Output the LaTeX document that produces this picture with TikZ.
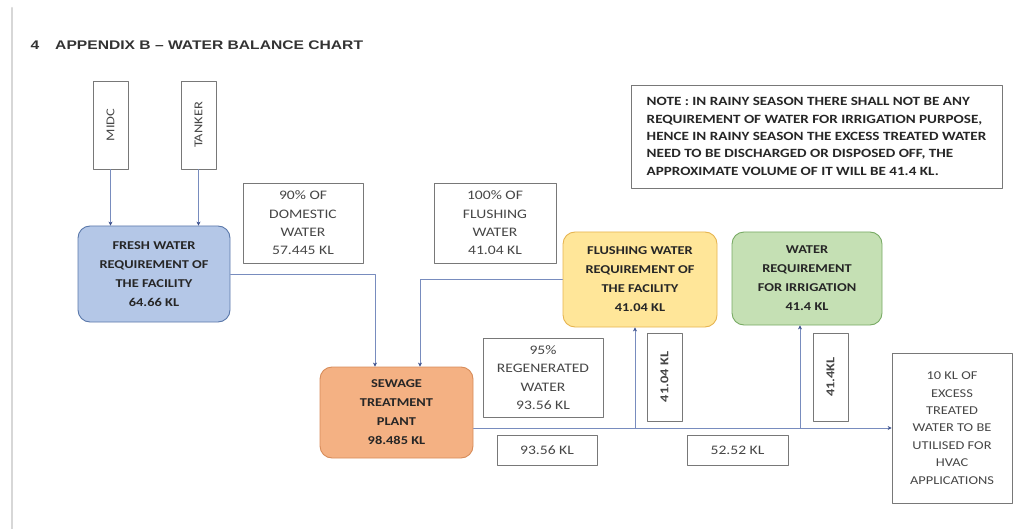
\documentclass[tikz,border=0pt]{standalone}
\usepackage{fontspec}
\setmainfont[FakeStretch=1.2]{Carlito}
\newfontfamily\titlefont[FakeStretch=1.25]{Liberation Sans}
\usetikzlibrary{arrows.meta}
\definecolor{rulegray}{RGB}{215,215,215}
\definecolor{boxgray}{RGB}{120,120,120}
\definecolor{txtgray}{RGB}{70,70,70}
\definecolor{flowblue}{RGB}{120,140,190}
\definecolor{headblue}{RGB}{60,80,140}
\definecolor{freshfill}{RGB}{180,199,231}
\definecolor{freshdraw}{RGB}{90,120,170}
\definecolor{stpfill}{RGB}{244,177,131}
\definecolor{stpdraw}{RGB}{215,140,90}
\definecolor{flushfill}{RGB}{255,230,153}
\definecolor{flushdraw}{RGB}{230,180,80}
\definecolor{irrfill}{RGB}{197,224,180}
\definecolor{irrdraw}{RGB}{120,170,100}
\tikzset{
  unit/.style={rounded corners=12pt,line width=0.9pt,align=center,inner sep=0pt,
    font=\fontsize{12}{19}\selectfont\bfseries,text=black!85},
  label box/.style={draw=boxgray,line width=0.7pt,align=center,inner sep=0pt,
    font=\fontsize{13}{18.3}\selectfont,text=txtgray},
  side box/.style={label box,rotate=90,minimum width=88pt,minimum height=35pt,
    font=\fontsize{12}{14}\selectfont},
  flow/.style={draw=flowblue,line width=0.6pt,-{Stealth[length=4pt,width=4pt,color=headblue]}}
}
\begin{document}
\begin{tikzpicture}[line cap=round,line join=round,x=1pt,y=-1pt]
\useasboundingbox (0,0) rectangle (1016,529);
\draw [rulegray,line width=2.2pt] (12,8) -- (12,529);
\node [anchor=west,font=\titlefont\fontsize{12.5}{14}\selectfont\bfseries,text=black!80] (title) at (27,45) {4\hspace{16pt}APPENDIX B – WATER BALANCE CHART};
% sources
\node [side box] (midc) at (110.5,125) {MIDC};
\node [side box] (tanker) at (198.5,125) {TANKER};
% units
\node [unit,fill=freshfill,draw=freshdraw,minimum width=152pt,minimum height=96pt] (fresh) at (154,274) {FRESH WATER\\REQUIREMENT OF\\THE FACILITY\\64.66 KL};
\node [unit,fill=stpfill,draw=stpdraw,minimum width=153pt,minimum height=91pt] (stp) at (396.5,412.5) {SEWAGE\\TREATMENT\\PLANT\\98.485 KL};
\node [unit,fill=flushfill,draw=flushdraw,minimum width=154pt,minimum height=95pt] (flushing) at (640,279.5) {FLUSHING WATER\\REQUIREMENT OF\\THE FACILITY\\41.04 KL};
\node [unit,fill=irrfill,draw=irrdraw,minimum width=150pt,minimum height=93pt] (irrig) at (807,278.5) {WATER\\REQUIREMENT\\FOR IRRIGATION\\41.4 KL};
% labels
\node [label box,minimum width=120pt,minimum height=80pt] (domestic) at (303,223) {90\% OF\\DOMESTIC\\WATER\\57.445 KL};
\node [label box,minimum width=122pt,minimum height=80pt] (flushpct) at (495,223) {100\% OF\\FLUSHING\\WATER\\41.04 KL};
\node [label box,minimum width=120pt,minimum height=79pt] (regen) at (543,377.5) {95\%\\REGENERATED\\WATER\\93.56 KL};
\node [label box,minimum width=100pt,minimum height=30pt] (regenkl) at (547,450) {93.56 KL};
\node [side box,font=\fontsize{12}{14}\selectfont\bfseries] (flushkl) at (664.5,377) {41.04 KL};
\node [side box,font=\fontsize{12}{14}\selectfont\bfseries] (irrkl) at (830.5,377) {41.4KL};
\node [label box,minimum width=101pt,minimum height=30pt] (balkl) at (737.5,450) {52.52 KL};
\node [label box,minimum width=120pt,minimum height=150pt,font=\fontsize{12}{17.4}\selectfont] (hvac) at (952,428) {10 KL OF\\EXCESS\\TREATED\\WATER TO BE\\UTILISED FOR\\HVAC\\APPLICATIONS};
\node [label box,minimum width=371pt,minimum height=103pt,align=left,text=black!85,
  font=\fontsize{12.6}{17.4}\selectfont\bfseries] (note) at (816.5,136.5) {NOTE : IN RAINY SEASON THERE SHALL NOT BE ANY\\REQUIREMENT OF WATER FOR IRRIGATION PURPOSE,\\HENCE IN RAINY SEASON THE EXCESS TREATED WATER\\NEED TO BE DISCHARGED OR DISPOSED OFF, THE\\APPROXIMATE VOLUME OF IT WILL BE 41.4 KL.};
% flows
\draw [flow] (midc.west) -- (midc.west |- fresh.north);
\draw [flow] (tanker.west) -- (tanker.west |- fresh.north);
\draw [flow] (fresh.east) -| ([xshift=-21.5pt]stp.north);
\draw [flow] (flushing.west) -| ([xshift=23.5pt]stp.north);
\coordinate (tap) at ([yshift=-15.5pt]stp.east);
\draw [flow] (tap) -- (hvac.west);
\draw [flow] (tap -| flushing.south) ++(-5,0) coordinate (flushtap) -- ([xshift=-5pt]flushing.south);
\draw [flow] (tap -| irrig.south) ++(-7,0) coordinate (irrtap) -- ([xshift=-7pt]irrig.south);
\end{tikzpicture}
\end{document}
